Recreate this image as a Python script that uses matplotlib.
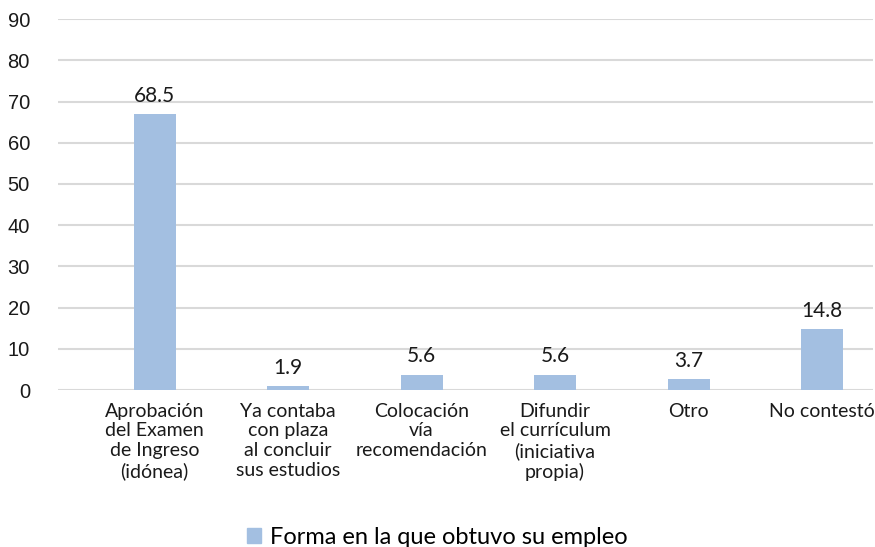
import numpy as np
import matplotlib.pyplot as plt
from matplotlib.patches import Patch

categories = ["Aprobación\ndel Examen\nde Ingreso\n(idónea)",
              "Ya contaba\ncon plaza\nal concluir\nsus estudios",
              "Colocación\nvía\nrecomendación",
              "Difundir\nel currículum\n(iniciativa\npropia)",
              "Otro",
              "No contestó"]
# bar heights as drawn in the picture, and the printed labels
values = [67.0, 1.0, 3.7, 3.7, 2.7, 14.8]
value_labels = ["68.5", "1.9", "5.6", "5.6", "3.7", "14.8"]
series_name = "Forma en la que obtuvo su empleo"
yticks = [0, 10, 20, 30, 40, 50, 60, 70, 80, 90]

bar_color = "#a3bfe1"
font = ["Lato", "DejaVu Sans"]

fig = plt.figure(figsize=(8.75, 5.47), dpi=100)
ax = fig.add_axes([0.066, 0.287, 0.932, 0.678])

x = np.arange(len(categories))
bars = ax.bar(x, values, width=0.315, color=bar_color, zorder=3)

for b, lab in zip(bars, value_labels):
    ax.annotate(lab, (b.get_x() + b.get_width() / 2, b.get_height()),
                xytext=(0, 6), textcoords="offset points",
                ha="center", va="bottom", fontsize=15, family=font,
                color="#1a1a1a")

ax.set_xlim(-0.726, 5.384)
ax.set_ylim(0, 90)
ax.set_yticks(yticks)
ax.set_yticklabels([str(t) for t in yticks], fontsize=14.5,
                   family=["Liberation Sans", "DejaVu Sans"], color="#1a1a1a")
ax.set_xticks(x)
ax.set_xticklabels(categories, fontsize=14, family=font, color="#1a1a1a",
                   linespacing=1.2, va="top")
ax.tick_params(axis="y", length=0, pad=20)
ax.tick_params(axis="x", length=0, pad=9)
ax.yaxis.grid(True, color="#d9d9d9", linewidth=1.5, zorder=0)
for s in ax.spines.values():
    s.set_visible(False)

fig.legend(handles=[Patch(color=bar_color, label=series_name)],
           loc="center", bbox_to_anchor=(0.5, 0.018), frameon=False,
           prop={"family": font, "size": 17}, handlelength=0.6,
           handleheight=0.6, handletextpad=0.4)

fig.savefig("out.png", dpi=100)
